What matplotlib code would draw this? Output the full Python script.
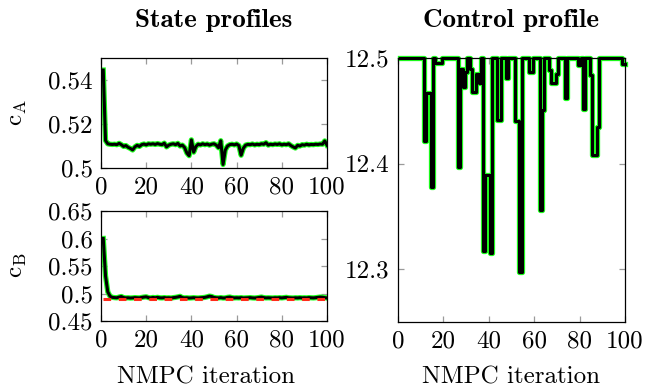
import numpy as np
import matplotlib
matplotlib.use("Agg")
import matplotlib.pyplot as plt

plt.rcParams['font.family'] = ['cmr10', 'DejaVu Serif']
plt.rcParams['mathtext.fontset'] = 'cm'
plt.rcParams['axes.unicode_minus'] = False
plt.rcParams['axes.formatter.use_mathtext'] = True

# ---------------- data ----------------
iterations = np.arange(1, 101)

cA = [0.5445, 0.5125, 0.5110, 0.5108, 0.5107, 0.5108, 0.5106, 0.5112, 0.5106, 0.5098,
      0.5102, 0.5094, 0.5089, 0.5082, 0.5096, 0.5103, 0.5098, 0.5106, 0.5109, 0.5105,
      0.5110, 0.5108, 0.5110, 0.5107, 0.5111, 0.5108, 0.5106, 0.5113, 0.5096, 0.5104,
      0.5108, 0.5110, 0.5106, 0.5112, 0.5100, 0.5104, 0.5093, 0.5068, 0.5056, 0.5128,
      0.5072, 0.5098, 0.5108, 0.5105, 0.5110, 0.5106, 0.5109, 0.5104, 0.5108, 0.5110,
      0.5104, 0.5092, 0.5124, 0.5016, 0.5082, 0.5100, 0.5106, 0.5108, 0.5105, 0.5109,
      0.5102, 0.5058, 0.5090, 0.5104, 0.5107, 0.5106, 0.5109, 0.5105, 0.5108, 0.5106,
      0.5110, 0.5108, 0.5115, 0.5104, 0.5108, 0.5106, 0.5109, 0.5107, 0.5110, 0.5105,
      0.5108, 0.5106, 0.5110, 0.5102, 0.5096, 0.5091, 0.5103, 0.5100, 0.5106, 0.5104,
      0.5108, 0.5105, 0.5107, 0.5106, 0.5108, 0.5107, 0.5109, 0.5108, 0.5123, 0.5104]

cB = [0.600, 0.532, 0.503, 0.4950, 0.4930, 0.4925, 0.4922, 0.4935, 0.4945, 0.4925,
      0.4920, 0.4922, 0.4918, 0.4920, 0.4925, 0.4922, 0.4920, 0.4928, 0.4935, 0.4940,
      0.4925, 0.4920, 0.4928, 0.4922, 0.4930, 0.4922, 0.4920, 0.4925, 0.4920, 0.4922,
      0.4918, 0.4925, 0.4930, 0.4938, 0.4948, 0.4925, 0.4920, 0.4922, 0.4918, 0.4920,
      0.4924, 0.4920, 0.4918, 0.4922, 0.4925, 0.4930, 0.4940, 0.4952, 0.4945, 0.4928,
      0.4922, 0.4920, 0.4925, 0.4918, 0.4920, 0.4930, 0.4935, 0.4925, 0.4920, 0.4922,
      0.4920, 0.4924, 0.4918, 0.4920, 0.4922, 0.4925, 0.4920, 0.4918, 0.4922, 0.4928,
      0.4935, 0.4925, 0.4920, 0.4922, 0.4920, 0.4918, 0.4922, 0.4920, 0.4924, 0.4920,
      0.4925, 0.4930, 0.4922, 0.4920, 0.4918, 0.4922, 0.4920, 0.4924, 0.4920, 0.4922,
      0.4920, 0.4925, 0.4922, 0.4920, 0.4924, 0.4930, 0.4935, 0.4932, 0.4925, 0.4918]

cB_ref = 0.4905

u = [12.5] * 100
u_dips = {12: 12.421, 13: 12.467, 14: 12.467, 15: 12.378,
          17: 12.495, 18: 12.495, 19: 12.495,
          27: 12.397, 28: 12.490, 29: 12.473, 30: 12.487,
          32: 12.490, 33: 12.468, 34: 12.468, 35: 12.485, 36: 12.476,
          38: 12.317, 39: 12.389, 40: 12.389, 41: 12.315,
          44: 12.441, 45: 12.441, 48: 12.481,
          52: 12.440, 53: 12.440, 54: 12.297,
          58: 12.487, 59: 12.487, 63: 12.356, 64: 12.451,
          67: 12.489, 68: 12.476, 69: 12.476, 70: 12.485,
          74: 12.462, 80: 12.493, 82: 12.452,
          85: 12.484, 86: 12.408, 87: 12.408, 88: 12.435,
          99: 12.494, 100: 12.494}
for k, v in u_dips.items():
    u[k - 1] = v

xticks = [0, 20, 40, 60, 80, 100]
cA_ticks = [0.5, 0.52, 0.54]
cA_ticklabels = ['0.5', '0.52', '0.54']
cB_ticks = [0.45, 0.5, 0.55, 0.6, 0.65]
cB_ticklabels = ['0.45', '0.5', '0.55', '0.6', '0.65']
u_ticks = [12.3, 12.4, 12.5]
u_ticklabels = ['12.3', '12.4', '12.5']

# ---------------- figure ----------------
W, H = 646, 392
fig = plt.figure(figsize=(W / 100, H / 100), dpi=100)

def ax_px(x0, y0, x1, y1):
    return fig.add_axes([x0 / W, 1 - y1 / H, (x1 - x0) / W, (y1 - y0) / H])

ax1 = ax_px(101, 58, 327, 168)
ax2 = ax_px(101, 211, 327, 321)
ax3 = ax_px(398, 58, 625, 322)

FS = 18
TFS = 19.5
GREEN = '#1dff1d'
GLW = 3.8
BLW = 2.2

def style(ax):
    ax.tick_params(direction='in', length=4, width=0.9, color='#9a9a9a',
                   top=True, right=True, labelsize=FS, pad=6)
    for s in ax.spines.values():
        s.set_linewidth(0.9)
        s.set_color('black')
    ax.set_xlim(0, 100)
    ax.set_xticks(xticks)
    ax.set_xticklabels([str(t) for t in xticks])

# c_A
ax1.plot(iterations, cA, color=GREEN, lw=GLW)
ax1.plot(iterations, cA, color='black', lw=BLW)
ax1.set_ylim(0.5, 0.55)
style(ax1)
ax1.set_yticks(cA_ticks)
ax1.set_yticklabels(cA_ticklabels)

# c_B
ax2.plot(iterations, cB, color=GREEN, lw=GLW)
ax2.plot(iterations, cB, color='black', lw=BLW)
ax2.plot(iterations, np.full(len(iterations), cB_ref), color='#ff2a1a', lw=2.2,
         dashes=(2.5, 2.5))
ax2.set_ylim(0.45, 0.65)
style(ax2)
ax2.set_yticks(cB_ticks)
ax2.set_yticklabels(cB_ticklabels)

# control
ax3.step(iterations, u, where='mid', color=GREEN, lw=GLW, clip_on=False)
ax3.step(iterations, u, where='mid', color='black', lw=BLW, clip_on=False)
ax3.set_ylim(12.25, 12.5)
style(ax3)
ax3.set_yticks(u_ticks)
ax3.set_yticklabels(u_ticklabels)

# labels
fig.text(18 / W, 1 - 113 / H, r'$\mathrm{c_A}$', rotation=90, ha='center', va='center', fontsize=FS)
fig.text(18 / W, 1 - 265 / H, r'$\mathrm{c_B}$', rotation=90, ha='center', va='center', fontsize=FS)
fig.text(206 / W, 1 - 377 / H, 'NMPC iteration', ha='center', va='center', fontsize=FS)
fig.text(511 / W, 1 - 377 / H, 'NMPC iteration', ha='center', va='center', fontsize=FS)
fig.text(214 / W, 1 - 21 / H, 'State profiles', ha='center', va='center', fontsize=TFS,
         family='cmb10')
fig.text(511 / W, 1 - 21 / H, 'Control profile', ha='center', va='center', fontsize=TFS,
         family='cmb10')

fig.savefig('out.png', dpi=100)
